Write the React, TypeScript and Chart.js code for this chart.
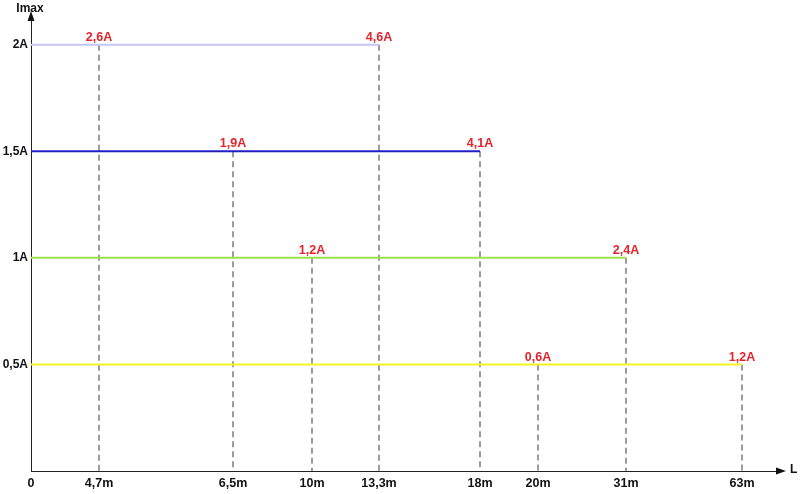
import React, { useEffect, useRef } from "react";
import { Chart, registerables } from "chart.js";

Chart.register(...registerables);

// Length tick labels along the L axis and their (schematic) positions on the axis
const lengthLabels = ["0", "4,7m", "6,5m", "10m", "13,3m", "18m", "20m", "31m", "63m"];
const axisPos = [0, 0.68, 2.02, 2.81, 3.48, 4.49, 5.07, 5.95, 7.11];
const axisMax = 7.49;

// Current levels (Imax)
const levels = [2, 1.5, 1, 0.5];
const levelLabels = ["2A", "1,5A", "1A", "0,5A"];
const levelColors = ["#c6c6f4", "#1f1fc4", "#9ae24c", "#f4f422"];

// For each level: index of first and last length mark, with the currents shown there
const startIdx = [1, 2, 3, 6];
const endIdx = [4, 5, 7, 8];
const startCurrent = ["2,6A", "1,9A", "1,2A", "0,6A"];
const endCurrent = ["4,6A", "4,1A", "2,4A", "1,2A"];

const FONT = "'Liberation Sans', Arial, sans-serif";

export default function App() {
  const ref = useRef<HTMLCanvasElement | null>(null);

  useEffect(() => {
    if (!ref.current) return;

    const hLines = levels.map((lv, i) => ({
      data: [
        { x: 0, y: lv },
        { x: axisPos[endIdx[i]], y: lv },
      ],
      borderColor: levelColors[i],
      borderWidth: 2,
      pointRadius: 0,
      showLine: true,
    }));

    const dashed: any[] = [];
    levels.forEach((lv, i) => {
      [startIdx[i], endIdx[i]].forEach((k) => {
        dashed.push({
          data: [
            { x: axisPos[k], y: lv },
            { x: axisPos[k], y: 0 },
          ],
          borderColor: "#5a5a5a",
          borderWidth: 1.2,
          borderDash: [6, 4],
          pointRadius: 0,
          showLine: true,
        });
      });
    });

    const annot = {
      id: "annot",
      afterDatasetsDraw(chart: any) {
        const ctx = chart.ctx;
        const xs = chart.scales.x;
        const ys = chart.scales.y;
        const area = chart.chartArea;
        ctx.save();
        ctx.font = `bold 12.5px ${FONT}`;
        ctx.fillStyle = "#e4232b";
        ctx.textAlign = "center";
        ctx.textBaseline = "bottom";
        levels.forEach((lv, i) => {
          const y = ys.getPixelForValue(lv) - 1;
          ctx.fillText(startCurrent[i], xs.getPixelForValue(axisPos[startIdx[i]]), y);
          ctx.fillText(endCurrent[i], xs.getPixelForValue(axisPos[endIdx[i]]), y);
        });
        // arrows
        ctx.fillStyle = "#111";
        ctx.beginPath();
        ctx.moveTo(area.left, area.top - 6);
        ctx.lineTo(area.left - 3.5, area.top + 4);
        ctx.lineTo(area.left + 3.5, area.top + 4);
        ctx.closePath();
        ctx.fill();
        ctx.beginPath();
        ctx.moveTo(area.right + 6, area.bottom);
        ctx.lineTo(area.right - 4, area.bottom - 3.5);
        ctx.lineTo(area.right - 4, area.bottom + 3.5);
        ctx.closePath();
        ctx.fill();
        // axis names
        ctx.font = `bold 12px ${FONT}`;
        ctx.textBaseline = "middle";
        ctx.textAlign = "center";
        ctx.fillText("Imax", area.left - 1, 9);
        ctx.textAlign = "left";
        ctx.fillText("L", area.right + 10, area.bottom - 1);
        ctx.restore();
      },
    };

    const chart = new Chart(ref.current, {
      type: "line",
      data: { datasets: [...hLines, ...dashed] as any },
      options: {
        animation: false,
        responsive: true,
        maintainAspectRatio: false,
        layout: { padding: { top: 17, right: 20, left: 0, bottom: 0 } },
        plugins: { legend: { display: false }, tooltip: { enabled: false } },
        scales: {
          x: {
            type: "linear",
            min: 0,
            max: axisMax,
            grid: { display: false, drawTicks: false, tickLength: 0 },
            border: { display: true, color: "#222", width: 1 },
            afterBuildTicks: (scale: any) => {
              scale.ticks = axisPos.map((v) => ({ value: v }));
            },
            afterFit: (scale: any) => {
              scale.height = 23;
            },
            ticks: {
              autoSkip: false,
              maxRotation: 0,
              padding: 5,
              color: "#111",
              font: { family: FONT, size: 12.5, weight: "bold" },
              callback: (_v: any, i: number) => lengthLabels[i],
            },
          },
          y: {
            type: "linear",
            min: 0,
            max: 2.13,
            grid: { display: false, drawTicks: false, tickLength: 0 },
            border: { display: true, color: "#222", width: 1 },
            afterBuildTicks: (scale: any) => {
              scale.ticks = levels.map((v) => ({ value: v }));
            },
            afterFit: (scale: any) => {
              scale.width = 31;
            },
            ticks: {
              autoSkip: false,
              padding: 3,
              color: "#111",
              font: { family: FONT, size: 12, weight: "bold" },
              callback: (v: any) => {
                const i = levels.indexOf(Number(v));
                return i >= 0 ? levelLabels[i] : "";
              },
            },
          },
        },
      },
      plugins: [annot],
    });
    return () => chart.destroy();
  }, []);

  return (
    <div style={{ position: "absolute", left: 0, top: 0, width: 800, height: 494, background: "#fff" }}>
      <canvas ref={ref} />
    </div>
  );
}
